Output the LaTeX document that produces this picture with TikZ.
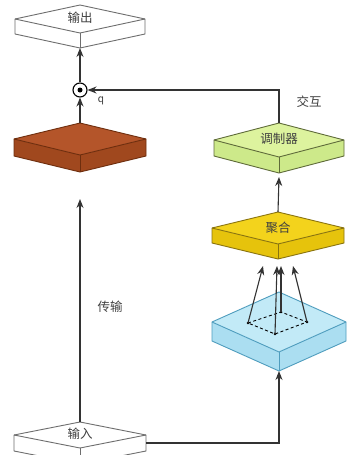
\documentclass[tikz,border=0pt]{standalone}
\usepackage{fontspec}
\newfontfamily\cjk{Noto Sans CJK SC}
\usetikzlibrary{arrows.meta}
\definecolor{brtop}{HTML}{B4552A}
\definecolor{brside}{HTML}{A0481E}
\definecolor{bredge}{HTML}{6E2E0E}
\definecolor{grtop}{HTML}{DDF39E}
\definecolor{grside}{HTML}{CDE98A}
\definecolor{gredge}{HTML}{5F6B3A}
\definecolor{yetop}{HTML}{F3D31C}
\definecolor{yeside}{HTML}{E6C30C}
\definecolor{yeedge}{HTML}{8A7410}
\definecolor{bltop}{HTML}{C2EAF7}
\definecolor{blside}{HTML}{ABDEF1}
\definecolor{bledge}{HTML}{4F9DBE}
\definecolor{wedge}{HTML}{6E6E6E}
\definecolor{conn}{HTML}{333333}
\tikzset{
  conn/.style={draw=conn, line width=1.1pt},
  arr/.style={conn, -{Stealth[length=9pt,width=7pt]}},
  lbl/.style={font=\cjk\fontsize{12.5}{14}\selectfont, text=black!75, inner sep=0pt},
}
% \slabbox{name}{cx}{topy}{hw}{hh}{th}{topfill}{sidefill}{edge}
\newcommand{\slabbox}[9]{%
  \fill[#8] (#2-#4,#3+#5) -- (#2,#3+2*#5) -- (#2+#4,#3+#5) -- (#2+#4,#3+#5+#6) -- (#2,#3+2*#5+#6) -- (#2-#4,#3+#5+#6) -- cycle;
  \fill[#7] (#2,#3) -- (#2+#4,#3+#5) -- (#2,#3+2*#5) -- (#2-#4,#3+#5) -- cycle;
  \draw[#9, line width=0.9pt, line join=round] (#2,#3) -- (#2+#4,#3+#5) -- (#2+#4,#3+#5+#6) -- (#2,#3+2*#5+#6) -- (#2-#4,#3+#5+#6) -- (#2-#4,#3+#5) -- cycle;
  \draw[#9, line width=0.9pt] (#2-#4,#3+#5) -- (#2,#3+2*#5) -- (#2+#4,#3+#5);
  \draw[#9, line width=0.9pt] (#2,#3+2*#5) -- (#2,#3+2*#5+#6);
  \coordinate (#1-top) at (#2,#3);
  \coordinate (#1-bot) at (#2,#3+2*#5+#6);
  \coordinate (#1-right) at (#2+#4,#3+#5+0.5*#6);
  \coordinate (#1-c) at (#2,#3+#5);
}
\begin{document}
\begin{tikzpicture}[x=1pt,y=-1pt]
\useasboundingbox (0,0) rectangle (348,455);
\fill[white] (0,0) rectangle (348,455);

\slabbox{out}{80}{5}{65}{14}{15}{white}{white}{wedge}
\node[lbl] (outl) at (80,18) {输出};

\slabbox{br}{80}{123}{66}{16}{17}{brtop}{brside}{bredge}

\slabbox{mod}{279}{123}{65}{17}{16}{grtop}{grside}{gredge}
\node[lbl] (modl) at (279,139) {调制器};

\slabbox{agg}{278}{212}{66}{16}{15}{yetop}{yeside}{yeedge}
\node[lbl] (aggl) at (278,228) {聚合};

\slabbox{bl}{279}{292}{67}{30}{19}{bltop}{blside}{bledge}

\begin{scope}
\clip (0,0) rectangle (348,455);
\slabbox{in}{80}{422}{66}{13}{16}{white}{white}{wedge}
\end{scope}
\node[lbl] (inl) at (80,434) {输入};

% dot product circle
\node[circle, draw=black, line width=1.1pt, minimum size=14pt, inner sep=0pt] (dot) at (80,90) {};
\fill[black] (dot.center) circle (2.5pt);

\node[lbl, font=\sffamily\fontsize{12.5}{14}\selectfont] (q) at (101,101) {q};
\node[lbl] (jh) at (309,102) {交互};
\node[lbl] (cs) at (110,307) {传输};

% connectors
\draw[arr] (dot.north) -- (out-bot);
\draw[arr] (br-top) -- (dot.south);
\draw[arr] (mod-top) |- (dot.east);
\coordinate (brin) at (80,199);
\draw[arr] (in-top) -- (brin);
\coordinate (modin) at (279,177);
\draw[arr] (agg-top) -- (modin);
\draw[arr] (in-right) -| (bl-bot);

% dashed diamond inside blue slab
\coordinate (dl) at (248,323);
\coordinate (dt) at (281,312);
\coordinate (dr) at (307,322);
\coordinate (df) at (275,334);
\draw[black, line width=0.9pt, dash pattern=on 3pt off 2.5pt] (dl) -- (dt) -- (dr) -- (df) -- cycle;
\foreach \p in {dl,dt,dr,df} \fill[black] (\p) circle (1.4pt);
\coordinate (t1) at (263,266);
\coordinate (t2) at (277,266);
\coordinate (t3) at (281,266);
\coordinate (t4) at (293,266);
\draw[arr] (dl) -- (t1);
\draw[arr] (df) -- (t2);
\draw[arr] (dt) -- (t3);
\draw[arr] (dr) -- (t4);
\end{tikzpicture}
\end{document}
